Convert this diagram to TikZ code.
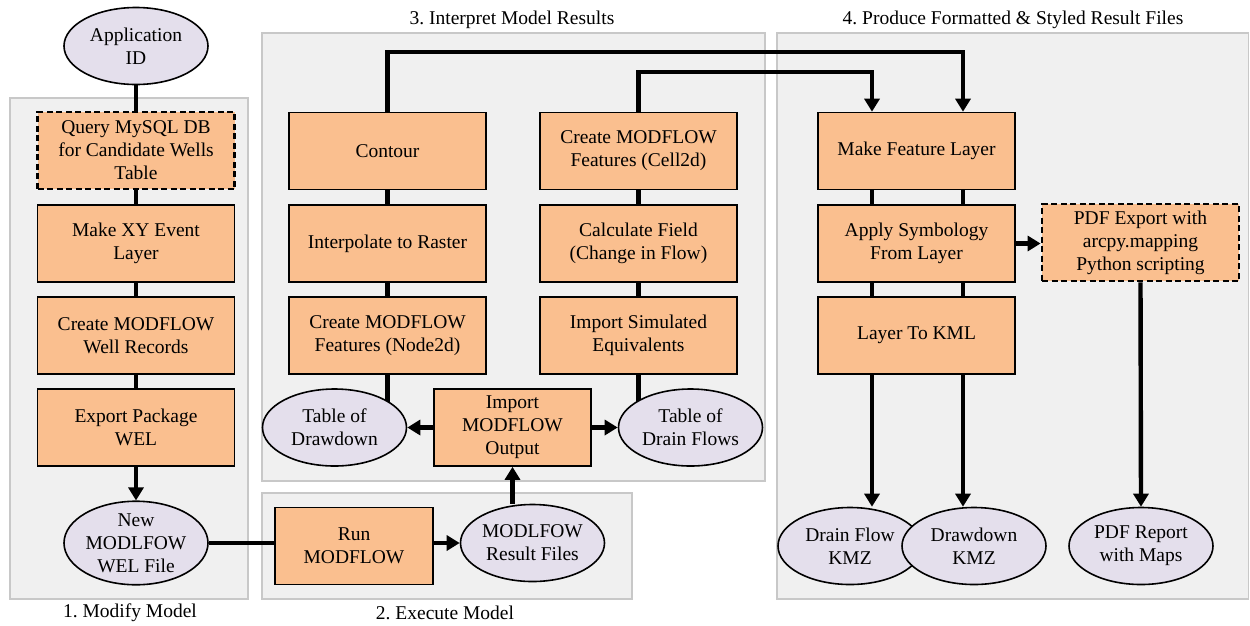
\documentclass[tikz,border=0pt]{standalone}
\usepackage{fontspec}
\setmainfont{Liberation Serif}
\usetikzlibrary{arrows.meta,shapes.geometric,calc}
\pgfdeclarelayer{panel}
\pgfdeclarelayer{wire}
\pgfsetlayers{panel,wire,main}
\definecolor{boxfill}{RGB}{250,191,143}
\definecolor{datafill}{RGB}{228,223,236}
\definecolor{panelfill}{RGB}{240,240,240}
\definecolor{panelline}{RGB}{200,200,200}
\begin{document}
\begin{tikzpicture}[x=1pt,y=-1pt,
  every node/.style={font=\fontsize{19.5}{23}\selectfont},
  proc/.style={draw=black,line width=1.6pt,fill=boxfill,minimum width=197pt,
    minimum height=77pt,align=center,inner sep=2pt},
  optproc/.style={proc,line width=2.8pt,dash pattern=on 6pt off 3.5pt},
  data/.style={ellipse,draw=black,line width=1.6pt,fill=datafill,minimum width=144pt,
    minimum height=77pt,align=center,inner sep=0pt},
  link/.style={line width=4.4pt},
  flow/.style={link,-{Triangle[length=13pt,width=15pt]}},
  group/.style={draw=panelline,line width=1.2pt,fill=panelfill}]
\useasboundingbox (0,0) rectangle (1250,625);

% ---- stage panels ----
\begin{pgfonlayer}{panel}
  \path[group] (10,98) rectangle (248,599);
  \path[group] (262,33) rectangle (765,481);
  \path[group] (262,493) rectangle (632,599);
  \path[group] (777,33) rectangle (1248.5,599);
\end{pgfonlayer}
\node (cap1) at (130,613) {1.~Modify Model};
\node (cap2) at (445,613) {2.~Execute Model};
\node (cap3) at (512,20) {3.~Interpret Model Results};
\node (cap4) at (1013,20) {4.~Produce Formatted \& Styled Result Files};

% ---- 1. modify model ----
\node[data] (app) at (136,46) {Application\\ID};
\node[optproc] (qry) at (136,150.5) {Query MySQL DB\\for Candidate Wells\\Table};
\node[proc] (mxy) at (136,243.5) {Make XY Event\\Layer};
\node[proc] (cmw) at (136,335.5) {Create MODFLOW\\Well Records};
\node[proc] (exp) at (136,427.5) {Export Package\\WEL};
\node[data] (wel) at (136,543) {New\\MODLFOW\\WEL File};

% ---- 2. execute model ----
\node[proc,minimum width=158pt] (run) at (354,546) {Run\\MODFLOW};
\node[data] (res) at (532.5,543) {MODLFOW\\Result Files};

% ---- 3. interpret model results ----
\node[proc] (con) at (387.5,151) {Contour};
\node[proc] (itp) at (387.5,243.5) {Interpolate to Raster};
\node[proc] (n2d) at (387.5,335.5) {Create MODFLOW\\Features (Node2d)};
\node[proc] (c2d) at (638.5,151) {Create MODFLOW\\Features (Cell2d)};
\node[proc] (clf) at (638.5,243.5) {Calculate Field\\(Change in Flow)};
\node[proc] (ise) at (638.5,335.5) {Import Simulated\\Equivalents};
\node[proc,minimum width=157pt] (imp) at (512.5,427.5) {Import\\MODFLOW\\Output};
\node[data] (tdd) at (334.5,427.5) {Table of\\Drawdown};
\node[data] (tdf) at (690.5,427.5) {Table of\\Drain Flows};

% ---- 4. produce result files ----
\node[proc] (mfl) at (916.5,151) {Make Feature Layer};
\node[proc] (asl) at (916.5,243.5) {Apply Symbology\\From Layer};
\node[proc] (kml) at (916.5,335.5) {Layer To KML};
\node[optproc] (pdf) at (1140.5,242.5) {PDF Export with\\arcpy.mapping\\Python scripting};
\node[data] (dfk) at (850,546) {Drain Flow\\KMZ};
\node[data] (ddk) at (974,546) {Drawdown\\KMZ};
\node[data] (rep) at (1141,546) {PDF Report\\with Maps};

% ---- connectors ----
\coordinate (top1) at (0,52);
\coordinate (top2) at (0,72);
\coordinate (mflL) at ($(mfl.north)+(-44.5,0)$);
\coordinate (mflR) at ($(mfl.north)+(46.5,0)$);
\coordinate (mfsL) at ($(mfl.south)+(-44.5,0)$);
\coordinate (mfsR) at ($(mfl.south)+(46.5,0)$);
\coordinate (asnL) at ($(asl.north)+(-44.5,0)$);
\coordinate (asnR) at ($(asl.north)+(46.5,0)$);
\coordinate (assL) at ($(asl.south)+(-44.5,0)$);
\coordinate (assR) at ($(asl.south)+(46.5,0)$);
\coordinate (knL) at ($(kml.north)+(-44.5,0)$);
\coordinate (knR) at ($(kml.north)+(46.5,0)$);
\coordinate (ksL) at ($(kml.south)+(-44.5,0)$);
\coordinate (ksR) at ($(kml.south)+(46.5,0)$);

\begin{pgfonlayer}{wire}
  \draw[link] (app.south) -- (qry.north);
  \draw[link] (qry.south) -- (mxy.north);
  \draw[link] (mxy.south) -- (cmw.north);
  \draw[link] (cmw.south) -- (exp.north);
  \draw[flow] (exp.south) -- (wel.north);
  \draw[link] (wel.east) -- (wel.east -| run.west);
  \draw[flow] (res.west -| run.east) -- (res.west);
  \draw[flow] (imp.south |- res.north) -- (imp.south);
  \draw[flow] (imp.west) -- (tdd.east);
  \draw[flow] (imp.east) -- (tdf.west);
  \draw[link] (con.south) -- (itp.north);
  \draw[link] (itp.south) -- (n2d.north);
  \draw[link] (n2d.south) -- (n2d.south |- tdd.center);
  \draw[link] (c2d.south) -- (clf.north);
  \draw[link] (clf.south) -- (ise.north);
  \draw[link] (ise.south) -- (ise.south |- tdf.center);
  \draw[flow] (con.north) -- (con.north |- top1) -| (mflR);
  \draw[flow] (c2d.north) -- (c2d.north |- top2) -| (mflL);
  \draw[link] (mfsL) -- (asnL);
  \draw[link] (mfsR) -- (asnR);
  \draw[link] (assL) -- (knL);
  \draw[link] (assR) -- (knR);
  \draw[flow] (ksL) -- (ksL |- dfk.north);
  \draw[flow] (ksR) -- (ksR |- ddk.north);
  \draw[flow] (asl.east) -- (asl.east -| pdf.west);
  \draw[flow] (pdf.south) -- (rep.north);
\end{pgfonlayer}
\end{tikzpicture}
\end{document}
